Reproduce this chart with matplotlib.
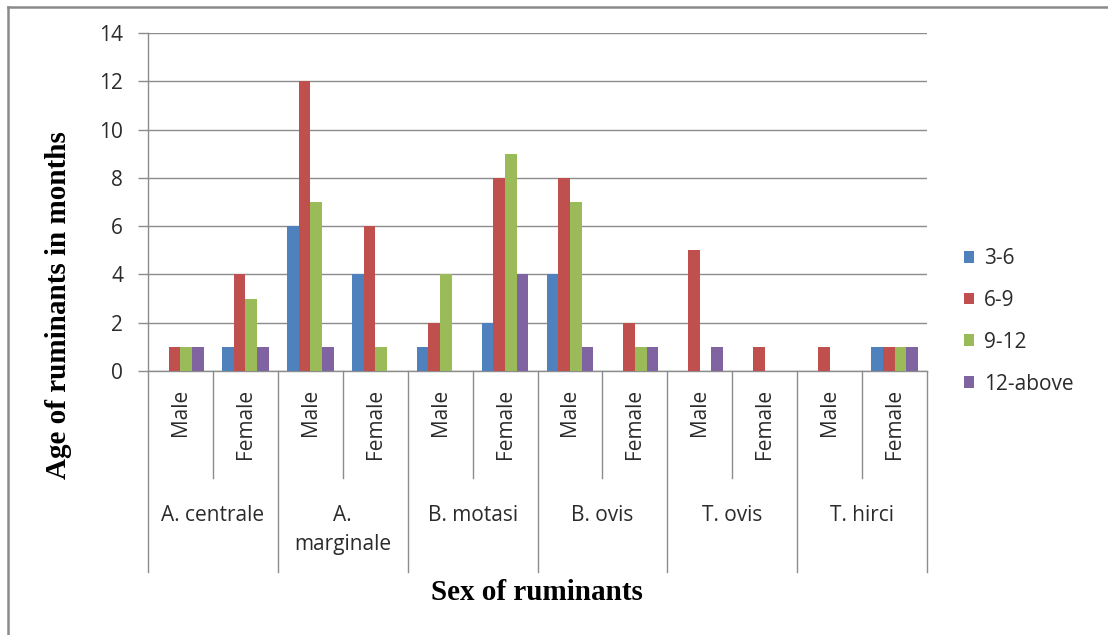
import matplotlib
matplotlib.use("Agg")
import matplotlib.pyplot as plt
import numpy as np
from matplotlib.patches import Patch
from matplotlib.lines import Line2D
from matplotlib.transforms import blended_transform_factory

# Data: ages of infected ruminants, per parasite species and sex
species = ["A. centrale", "A.\nmarginale", "B. motasi", "B. ovis", "T. ovis", "T. hirci"]
sexes = ["Male", "Female"]
age_groups = ["3-6", "6-9", "9-12", "12-above"]
age_3_6 = [0, 1, 6, 4, 1, 2, 4, 0, 0, 0, 0, 1]
age_6_9 = [1, 4, 12, 6, 2, 8, 8, 2, 5, 1, 1, 1]
age_9_12 = [1, 3, 7, 1, 4, 9, 7, 1, 0, 0, 0, 1]
age_12_above = [1, 1, 1, 0, 0, 4, 1, 1, 1, 0, 0, 1]
yticks = [0, 2, 4, 6, 8, 10, 12, 14]

series = [age_3_6, age_6_9, age_9_12, age_12_above]
colors = ["#4F81BD", "#C0504D", "#9BBB59", "#8064A2"]

W, H = 1108, 635
def fx(px):
    return px / W
def fy(py):
    return 1 - py / H

LABEL_FONT = ["Open Sans", "DejaVu Sans"]
TITLE_FONT = ["Liberation Serif", "DejaVu Serif"]
GRID = "#8c8c8c"
TEXT = "#2b2b2b"
FS = 15

fig = plt.figure(figsize=(W / 100, H / 100), dpi=100)
fig.patch.set_facecolor("white")

x0, x1, y_top, y_zero = 148, 927, 33, 371
ax = fig.add_axes([fx(x0), fy(y_zero), (x1 - x0) / W, (y_zero - y_top) / H])

n_slots = len(species) * len(sexes)
ax.set_xlim(0, n_slots)
ax.set_ylim(0, 14)

bar_w = 0.18
centers = np.arange(n_slots) + 0.5
for k, (vals, col) in enumerate(zip(series, colors)):
    ax.bar(centers + (k - 1.5) * bar_w, vals, width=bar_w, color=col,
           edgecolor="none", zorder=3)

# Axes styling
ax.set_yticks(yticks)
ax.set_yticklabels([str(t) for t in yticks])
ax.yaxis.grid(True, color=GRID, linewidth=1.0, zorder=0)
ax.set_axisbelow(True)
ax.set_xticks([])
for s in ["top", "right"]:
    ax.spines[s].set_visible(False)
for s in ["left", "bottom"]:
    ax.spines[s].set_color(GRID)
    ax.spines[s].set_linewidth(1.0)
ax.tick_params(axis="y", length=7, width=1.0, color=GRID, pad=11,
               labelsize=FS, labelcolor=TEXT)
for lab in ax.get_yticklabels():
    lab.set_fontfamily(LABEL_FONT)

# Multi-level category axis: separators and labels below the plot
trans = blended_transform_factory(ax.transData, ax.transAxes)
ax_h = y_zero - y_top
outer_bottom = -(572 - y_zero) / ax_h
inner_bottom = -(478 - y_zero) / ax_h
for g in range(len(species) + 1):
    ax.add_line(Line2D([2 * g, 2 * g], [0, outer_bottom], transform=trans,
                       color=GRID, linewidth=1.0, clip_on=False))
for g in range(len(species)):
    ax.add_line(Line2D([2 * g + 1, 2 * g + 1], [0, inner_bottom], transform=trans,
                       color=GRID, linewidth=1.0, clip_on=False))

sex_y = -(389 - y_zero) / ax_h
for i in range(n_slots):
    ax.text(centers[i], sex_y, sexes[i % 2], transform=trans, rotation=90,
            ha="center", va="top", fontsize=FS, color=TEXT,
            fontfamily=LABEL_FONT)

species_y = -(505 - y_zero) / ax_h
for g, name in enumerate(species):
    ax.text(2 * g + 1, species_y, name, transform=trans, ha="center", va="top",
            fontsize=FS, color=TEXT, fontfamily=LABEL_FONT, linespacing=1.5)

# Axis titles
fig.text(fx(59), fy(305), "Age of ruminants in months", rotation=90,
         ha="center", va="center", fontsize=21, fontweight="bold",
         fontfamily=TITLE_FONT, color="black")
fig.text(fx(537), fy(593), "Sex of ruminants", ha="center", va="center",
         fontsize=21, fontweight="bold", fontfamily=TITLE_FONT, color="black")

# Legend
handles = [Patch(facecolor=c, edgecolor="none") for c in colors]
fig.legend(handles, age_groups, loc="upper left",
           bbox_to_anchor=(fx(964), fy(248)), bbox_transform=fig.transFigure,
           frameon=False, handlelength=0.5, handleheight=0.5,
           handletextpad=0.45, labelspacing=1.0, borderpad=0,
           borderaxespad=0,
           prop={"family": LABEL_FONT, "size": FS})
for t in fig.legends[0].get_texts():
    t.set_color(TEXT)

# Outer chart frame
fig.add_artist(Line2D([fx(8), fx(8)], [fy(7), fy(H + 5)], color="#8a8a8a",
                      linewidth=1.8, transform=fig.transFigure))
fig.add_artist(Line2D([fx(8), fx(W + 5)], [fy(7), fy(7)], color="#8a8a8a",
                      linewidth=1.8, transform=fig.transFigure))

fig.savefig("out.png", dpi=100, facecolor="white")
